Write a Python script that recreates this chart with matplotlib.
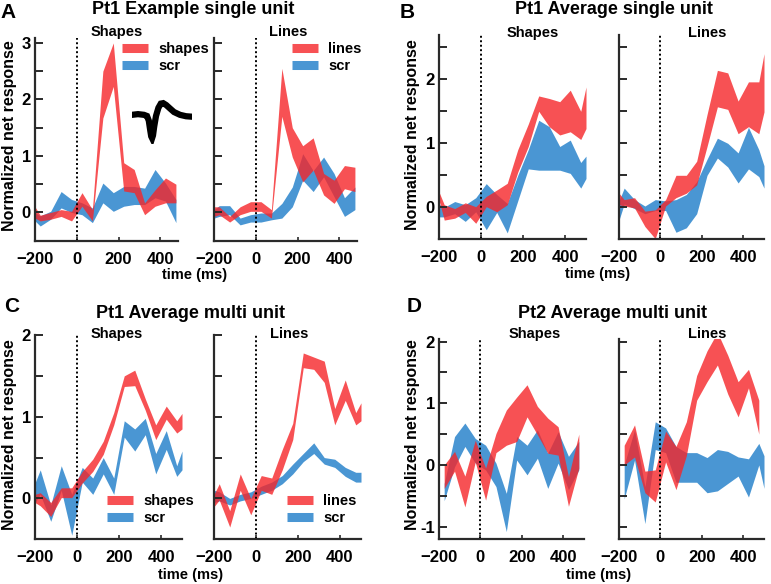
import numpy as np
import matplotlib
matplotlib.use('Agg')
import matplotlib.pyplot as plt
from matplotlib.lines import Line2D

nan = np.nan

# bin centres (ms); first/last entries are the values at the axis edges
t_ms = [-200, -175, -125, -75, -25, 25, 75, 125, 175, 225, 275, 325, 375, 425, 475, 500]

# A - Pt1 example single unit
a_shapes_hi = [0.1, -0.05, 0.0, 0.05, 0.02, 0.35, 0.05, 2.5, 3.0, 0.88, 0.76, 0.17, 0.4, 0.61, 0.5, nan]
a_shapes_lo = [-0.1, -0.15, -0.12, -0.07, -0.15, 0.11, -0.15, 1.67, 2.23, 0.38, 0.35, -0.04, 0.11, 0.17, 0.17, nan]
a_shscr_hi = [0.0, -0.06, 0.02, 0.37, 0.23, 0.17, 0.08, 0.52, 0.35, 0.46, 0.46, 0.43, 0.76, 0.52, 0.23, nan]
a_shscr_lo = [-0.15, -0.24, -0.12, 0.08, 0.0, -0.04, -0.18, 0.17, 0.02, 0.11, 0.14, 0.14, 0.26, 0.2, -0.18, nan]
a_lines_hi = [0.1, 0.1, -0.07, 0.1, 0.19, 0.19, 0.05, 2.55, 1.5, 1.18, 1.32, 0.69, 0.57, 0.83, 0.8, nan]
a_lines_lo = [-0.07, -0.04, -0.17, -0.04, 0.02, 0.02, -0.1, 1.7, 0.98, 0.54, 0.75, 0.31, 0.16, 0.42, 0.37, nan]
a_liscr_hi = [0.05, 0.12, 0.12, -0.1, -0.04, -0.01, -0.01, 0.16, 0.45, 1.04, 0.74, 0.98, 0.69, 0.26, 0.45, nan]
a_liscr_lo = [-0.1, -0.07, -0.04, -0.22, -0.17, -0.17, -0.13, -0.1, 0.1, 0.57, 0.37, 0.63, 0.28, -0.07, 0.05, nan]

# B - Pt1 average single unit
b_shapes_hi = [0.24, 0.04, -0.02, 0.07, 0.01, 0.17, 0.27, 0.375, 0.9, 1.3, 1.74, 1.7, 1.65, 1.83, 1.5, 1.88]
b_shapes_lo = [0.11, -0.2, -0.17, -0.08, -0.25, 0.01, -0.07, 0.04, 0.55, 0.95, 1.5, 1.26, 1.13, 1.18, 1.06, 1.23]
b_shscr_hi = [0.05, 0.0, 0.09, 0.04, 0.15, 0.37, 0.2, 0.06, 0.5, 0.9, 1.36, 1.26, 0.95, 1.05, 0.7, 0.8]
b_shscr_lo = [-0.15, -0.15, -0.1, -0.22, -0.07, -0.35, -0.08, -0.4, 0.1, 0.6, 0.58, 0.58, 0.58, 0.53, 0.3, 0.45]
b_lines_hi = [0.22, 0.12, 0.15, -0.06, -0.04, 0.12, 0.5, 0.5, 0.72, 1.45, 2.14, 2.1, 1.66, 1.96, 1.96, 2.4]
b_lines_lo = [0.04, 0.02, -0.01, -0.3, -0.49, 0.02, 0.15, 0.22, 0.35, 0.95, 1.57, 1.53, 1.15, 1.26, 1.15, 1.49]
b_liscr_hi = [0.1, 0.3, 0.12, 0.02, 0.12, 0.1, 0.12, 0.2, 0.4, 0.75, 1.08, 1.0, 0.85, 1.25, 0.9, 0.65]
b_liscr_lo = [-0.2, 0.05, -0.02, -0.1, -0.05, -0.05, -0.39, -0.32, -0.1, 0.5, 0.77, 0.63, 0.38, 0.6, 0.48, 0.3]

# C - Pt1 average multi unit
c_shapes_hi = [0.05, 0.07, -0.05, 0.13, 0.13, 0.33, 0.48, 0.7, 1.05, 1.5, 1.57, 1.22, 0.9, 1.13, 0.95, 1.04]
c_shapes_lo = [-0.05, -0.09, -0.22, 0.01, 0.01, 0.19, 0.33, 0.54, 0.9, 1.37, 1.38, 1.08, 0.72, 0.97, 0.8, 0.85]
c_shscr_hi = [0.19, 0.35, -0.08, 0.4, 0.05, 0.38, 0.25, 0.5, 0.25, 0.95, 0.85, 0.98, 0.55, 0.83, 0.4, 0.58]
c_shscr_lo = [-0.05, 0.05, -0.28, 0.1, -0.45, 0.2, 0.05, 0.3, 0.05, 0.75, 0.58, 0.78, 0.3, 0.6, 0.27, 0.35]
c_lines_hi = [0.05, 0.18, -0.15, 0.3, 0.0, 0.28, 0.25, 0.6, 0.92, 1.78, 1.73, 1.68, 1.1, 1.45, 1.05, 1.17]
c_lines_lo = [-0.1, -0.02, -0.35, 0.1, -0.2, 0.1, 0.05, 0.35, 0.72, 1.6, 1.58, 1.42, 0.9, 1.2, 0.9, 0.95]
c_liscr_hi = [0.1, 0.08, 0.0, 0.05, 0.08, 0.15, 0.2, 0.28, 0.42, 0.55, 0.68, 0.5, 0.48, 0.38, 0.32, 0.32]
c_liscr_lo = [-0.05, -0.03, -0.08, -0.03, 0.0, 0.05, 0.1, 0.18, 0.3, 0.45, 0.55, 0.42, 0.38, 0.27, 0.2, 0.2]

# D - Pt2 average multi unit
d_shapes_hi = [nan, 0.0, 0.22, -0.18, 0.4, -0.05, 0.51, 0.89, 1.1, 1.3, 0.95, 0.76, 0.62, -0.19, 0.5, nan]
d_shapes_lo = [nan, -0.38, -0.1, -0.68, 0.05, -0.57, 0.2, 0.32, 0.38, 0.78, 0.49, 0.19, 0.16, -0.67, -0.05, nan]
d_shscr_hi = [nan, -0.3, 0.46, 0.68, 0.43, 0.32, 0.03, -0.46, 0.46, 0.32, 0.57, 0.19, 0.54, 0.14, 0.38, nan]
d_shscr_lo = [nan, -0.58, -0.03, 0.3, 0.03, -0.08, -0.35, -1.08, 0.08, -0.16, 0.11, -0.38, 0.03, -0.4, -0.08, nan]
d_lines_hi = [nan, 0.32, 0.65, -0.1, -0.08, 0.55, 0.3, 0.7, 1.45, 1.85, 2.15, 1.78, 1.35, 1.55, 1.05, nan]
d_lines_lo = [nan, 0.0, 0.13, -0.45, -0.6, 0.05, -0.4, 0.15, 1.05, 1.35, 1.62, 1.15, 0.78, 1.25, 0.5, nan]
d_liscr_hi = [nan, 0.0, 0.57, -0.35, 0.7, 0.6, 0.3, 0.2, 0.2, 0.12, 0.25, 0.22, 0.13, 0.1, 0.35, 0.15]
d_liscr_lo = [nan, -0.55, 0.08, -0.95, 0.25, 0.2, -0.28, -0.28, -0.28, -0.45, -0.42, -0.3, -0.18, -0.52, 0.0, -0.38]

# spike waveform for the inset in A (time normalised 0..1)
wave_t = [0, 0.1, 0.2, 0.25, 0.28, 0.3, 0.32, 0.335, 0.35, 0.37, 0.4, 0.44, 0.48, 0.52, 0.57, 0.63, 0.7, 0.8, 0.9, 1.0]
wave_v = [0, 0.03, 0.0, -0.05, -0.25, -0.6, -0.92, -1.0, -0.88, -0.5, -0.05, 0.3, 0.48, 0.5, 0.42, 0.28, 0.12, 0.0, -0.06, -0.08]

plt.rcParams['font.family'] = ['Liberation Sans', 'DejaVu Sans']
plt.rcParams['font.weight'] = 'bold'

W, H = 771, 584
fig = plt.figure(figsize=(W / 100, H / 100), dpi=100)

RED = (0.96, 0.15, 0.16)
BLUE = (0.25, 0.57, 0.82)
RED_A = 0.8
BLUE_A = 0.95


def px_box(l, r, t, b):
    return [l / W, 1 - b / H, (r - l) / W, (b - t) / H]


def ftext(x, y, s, **kw):
    fig.text(x / W, 1 - y / H, s, **kw)


def panel(box, xlim, ylim, yticks, red_hi, red_lo, blue_hi, blue_lo, labels):
    ax = fig.add_axes(px_box(*box))
    t = np.array(t_ms, dtype=float)
    ax.fill_between(t, blue_lo, blue_hi, color=BLUE, alpha=BLUE_A, lw=0)
    ax.fill_between(t, red_lo, red_hi, color=RED, alpha=RED_A, lw=0)
    ax.axvline(0, color='k', ls=(0, (1, 1.3)), lw=1.4)
    ax.set_xlim(*xlim)
    ax.set_ylim(*ylim)
    ax.set_xticks([-200, 0, 200, 400])
    ax.set_yticks(yticks)
    if labels:
        ax.set_yticklabels([('%d' % v if float(v).is_integer() else '') for v in yticks])
    else:
        ax.set_yticklabels([])
    for s in ['top', 'right']:
        ax.spines[s].set_visible(False)
    for s in ['left', 'bottom']:
        ax.spines[s].set_linewidth(1.6)
        ax.spines[s].set_color('#2a2a2a')
    ax.tick_params(axis='y', direction='in', length=6, width=1.4, pad=3,
                   labelsize=12, color='#2a2a2a')
    ax.tick_params(axis='x', direction='in', length=3, width=1.2, pad=8,
                   labelsize=12, color='#2a2a2a')
    return ax


def legend(ax, x, y, name):
    hs = [Line2D([0], [0], color=RED, alpha=RED_A, lw=6.5, solid_capstyle='butt'),
          Line2D([0], [0], color=BLUE, alpha=BLUE_A, lw=6.5, solid_capstyle='butt')]
    ax.legend(hs, [name, 'scr'], loc='upper left', bbox_to_anchor=(x / W, 1 - y / H),
              bbox_transform=fig.transFigure, frameon=False, fontsize=10.5,
              handlelength=1.75, handletextpad=0.75, labelspacing=0.2, borderpad=0,
              borderaxespad=0)


ticks_a = np.arange(-0.5, 3.01, 0.5)
ticks_bc = np.arange(-0.5, 2.51, 0.5)
ticks_d = np.arange(-1.0, 2.01, 0.5)

# A
ax = panel((35, 178, 38.4, 240.7), (-200, 485), (-0.5, 3.08), ticks_a,
           a_shapes_hi, a_shapes_lo, a_shscr_hi, a_shscr_lo, True)
legend(ax, 122, 42, 'shapes')
ax = panel((214, 357, 38.4, 240.7), (-200, 485), (-0.5, 3.08), ticks_a,
           a_lines_hi, a_lines_lo, a_liscr_hi, a_liscr_lo, False)
legend(ax, 292, 42, 'lines')

# inset waveform
axw = fig.add_axes(px_box(132, 192, 95, 144))
axw.plot(wave_t, wave_v, color='k', lw=4.5, solid_joinstyle='miter')
axw.set_xlim(0, 1)
axw.set_ylim(-1.25, 0.85)
axw.axis('off')

# B
panel((439, 586, 34.5, 239.3), (-200, 500), (-0.5, 2.7), ticks_bc,
      b_shapes_hi, b_shapes_lo, b_shscr_hi, b_shscr_lo, True)
panel((619, 764, 34.5, 239.3), (-200, 500), (-0.5, 2.7), ticks_bc,
      b_lines_hi, b_lines_lo, b_liscr_hi, b_liscr_lo, False)

# C
ax = panel((35, 182, 335, 539.3), (-200, 500), (-0.5, 2.0), ticks_bc[:-1],
           c_shapes_hi, c_shapes_lo, c_shscr_hi, c_shscr_lo, True)
legend(ax, 107, 494, 'shapes')
ax = panel((214, 361, 335, 539.3), (-200, 500), (-0.5, 2.0), ticks_bc[:-1],
           c_lines_hi, c_lines_lo, c_liscr_hi, c_liscr_lo, False)
legend(ax, 287, 494, 'lines')

# D
panel((439, 584, 338.5, 539), (-200, 500), (-1.2, 2.05), ticks_d,
      d_shapes_hi, d_shapes_lo, d_shscr_hi, d_shscr_lo, True)
panel((619, 764, 338.5, 539), (-200, 500), (-1.2, 2.05), ticks_d,
      d_lines_hi, d_lines_lo, d_liscr_hi, d_liscr_lo, False)

# titles and labels
for letter, lx, ly in [('A', 8, 12), ('B', 407, 13), ('C', 12, 306), ('D', 414, 307)]:
    ftext(lx, ly, letter, fontsize=15, ha='center', va='center')

for title, tx, ty in [('Pt1 Example single unit', 193, 9), ('Pt1 Average single unit', 614, 9),
                      ('Pt1 Average multi unit', 191, 313), ('Pt2 Average multi unit', 613, 314)]:
    ftext(tx, ty, title, fontsize=13, ha='center', va='center')

for sub, sx, sy in [('Shapes', 117, 32), ('Lines', 288, 32), ('Shapes', 533, 33), ('Lines', 707, 33),
                    ('Shapes', 117, 334), ('Lines', 289, 334), ('Shapes', 535, 334), ('Lines', 707, 334)]:
    ftext(sx, sy, sub, fontsize=10.5, ha='center', va='center')

for xx, yy in [(195, 275), (598, 274), (191, 575), (599, 575)]:
    ftext(xx, yy, 'time (ms)', fontsize=10.5, ha='center', va='center')

for xx, yy in [(10, 136), (412, 135), (10, 435), (412, 435)]:
    ftext(xx, yy, 'Normalized net response', fontsize=11.5, ha='center', va='center',
          rotation=90)

fig.savefig('out.png', dpi=100)
